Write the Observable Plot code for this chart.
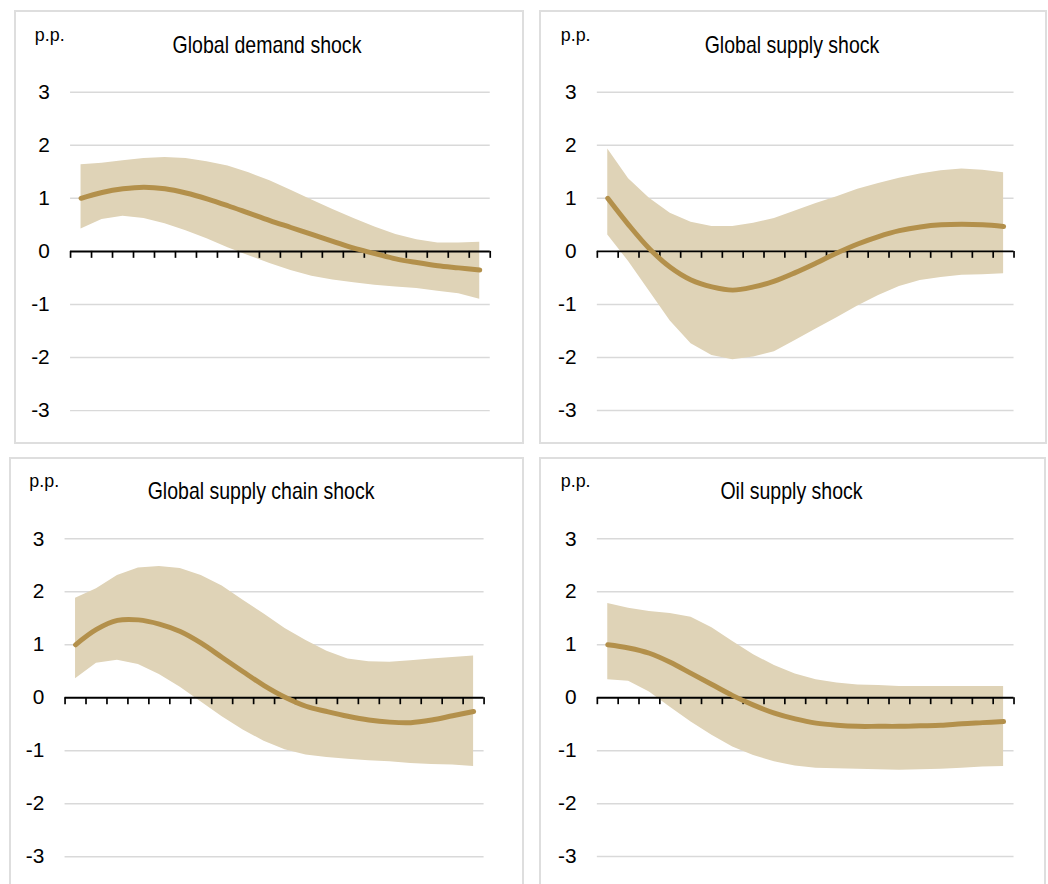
<!DOCTYPE html>
<html><head><meta charset="utf-8">
<script src="https://cdn.jsdelivr.net/npm/d3@7"></script>
<script src="https://cdn.jsdelivr.net/npm/@observablehq/plot@0.6"></script>
<style>
body{margin:0;background:#fff;}
#root{position:relative;width:1048px;height:884px;overflow:hidden;background:#fff;}
.panel{position:absolute;box-sizing:border-box;border:2px solid #dedede;}
.panel svg{position:absolute;left:-2px;top:-2px;overflow:visible;}
</style></head><body><div id="root"></div>
<script>
// ---- data ----
const periods = [1,2,3,4,5,6,7,8,9,10,11,12,13,14,15,16,17,18,19,20];
const titles = ["Global demand shock","Global supply shock","Global supply chain shock","Oil supply shock"];
const unitLabel = "p.p.";
const yTicks = [-3,-2,-1,0,1,2,3];

const demandMean  = [1.00,1.11,1.18,1.21,1.18,1.10,0.99,0.86,0.72,0.58,0.45,0.32,0.19,0.06,-0.04,-0.14,-0.21,-0.27,-0.31,-0.35];
const demandUpper = [1.63,1.66,1.71,1.75,1.77,1.75,1.69,1.61,1.48,1.33,1.15,0.97,0.79,0.62,0.46,0.32,0.22,0.16,0.16,0.17];
const demandLower = [0.42,0.60,0.66,0.62,0.52,0.39,0.24,0.07,-0.08,-0.23,-0.36,-0.47,-0.54,-0.59,-0.64,-0.67,-0.70,-0.75,-0.80,-0.90];

const supplyMean  = [1.00,0.50,0.05,-0.30,-0.54,-0.67,-0.73,-0.67,-0.56,-0.40,-0.22,-0.03,0.14,0.28,0.39,0.46,0.50,0.51,0.50,0.47];
const supplyUpper = [1.93,1.37,1.00,0.72,0.55,0.47,0.47,0.53,0.62,0.76,0.90,1.03,1.17,1.28,1.38,1.46,1.52,1.55,1.53,1.48];
const supplyLower = [0.31,-0.19,-0.75,-1.31,-1.74,-1.96,-2.04,-1.99,-1.89,-1.68,-1.46,-1.25,-1.03,-0.83,-0.66,-0.55,-0.49,-0.45,-0.44,-0.42];

const chainMean  = [1.00,1.29,1.46,1.47,1.39,1.25,1.03,0.76,0.49,0.23,0.01,-0.16,-0.26,-0.35,-0.42,-0.46,-0.47,-0.42,-0.34,-0.26];
const chainUpper = [1.88,2.06,2.31,2.45,2.48,2.44,2.31,2.11,1.84,1.58,1.31,1.08,0.88,0.73,0.68,0.67,0.70,0.73,0.76,0.79];
const chainLower = [0.36,0.65,0.71,0.63,0.44,0.20,-0.08,-0.36,-0.61,-0.82,-0.98,-1.08,-1.13,-1.16,-1.19,-1.21,-1.24,-1.26,-1.27,-1.30];

const oilMean  = [1.00,0.94,0.84,0.67,0.46,0.25,0.04,-0.14,-0.29,-0.40,-0.48,-0.52,-0.54,-0.54,-0.54,-0.53,-0.52,-0.49,-0.47,-0.45];
const oilUpper = [1.78,1.69,1.63,1.59,1.52,1.32,1.06,0.81,0.61,0.45,0.34,0.28,0.24,0.23,0.21,0.21,0.21,0.21,0.21,0.21];
const oilLower = [0.34,0.31,0.11,-0.18,-0.46,-0.71,-0.93,-1.09,-1.21,-1.29,-1.33,-1.34,-1.35,-1.36,-1.37,-1.36,-1.35,-1.33,-1.31,-1.30];

const series = [
  [demandMean, demandLower, demandUpper],
  [supplyMean, supplyLower, supplyUpper],
  [chainMean, chainLower, chainUpper],
  [oilMean, oilLower, oilUpper]
];

// ---- layout (page pixels) ----
const layout = [
  {box:[15,11,523,443],  plot:[70.5,493.5,92.3,413.3],  title:[269,53.5],  unit:[35,41.5]},
  {box:[540,11,1046,443],plot:[597.3,1017.3,92.3,413.3],title:[794,53.5], unit:[561,41.5]},
  {box:[10,458,523,910], plot:[65,487.3,539,859.3],     title:[263,499.5],unit:[29.5,487]},
  {box:[540,458,1045,910],plot:[597.3,1017.3,539,859.3],title:[793.5,499.5],unit:[561,487]}
];

const FONT = '"Liberation Sans",Arial,sans-serif';
const NARROW = 0.82; // emulate a narrow sans face for the titles
const bandColor = "#dfd3b7";
const lineColor = "#b3904b";
const gridColor = "#d9d9d9";
const xBoundaries = d3.range(0.5, periods.length + 1, 1);

const root = document.getElementById("root");

layout.forEach((L, k) => {
  const [bx0, by0, bx1, by1] = L.box;
  const ox = bx0 - 1, oy = by0 - 1;
  const W = bx1 - bx0 + 2, H = by1 - by0 + 2;
  const div = document.createElement("div");
  div.className = "panel";
  div.style.left = ox + "px"; div.style.top = oy + "px";
  div.style.width = W + "px"; div.style.height = H + "px";
  root.appendChild(div);

  const [mean, lower, upper] = series[k];
  const data = periods.map((p, i) => ({p, mean: mean[i], lower: lower[i], upper: upper[i]}));
  const [px0, px1, pyTop, pyBot] = L.plot;

  const svg = Plot.plot({
    width: W, height: H,
    marginLeft: px0 - ox, marginRight: W - (px1 - ox),
    marginTop: pyTop - oy, marginBottom: H - (pyBot - oy),
    style: {fontFamily: FONT, fontSize: "21px", background: "transparent", overflow: "visible"},
    x: {domain: [0.5, periods.length + 0.5], axis: null},
    y: {domain: [-3, 3], axis: null},
    marks: [
      Plot.ruleY(yTicks.filter(d => d !== 0), {stroke: gridColor, strokeWidth: 1.5}),
      Plot.areaY(data, {x: "p", y1: "lower", y2: "upper", fill: bandColor}),
      Plot.ruleY([0], {stroke: "#000", strokeWidth: 2}),
      Plot.ruleX(xBoundaries, {x: d => d, y1: () => 0, y2: () => 0, insetBottom: -7, stroke: "#000", strokeWidth: 1.7}),
      Plot.line(data, {x: "p", y: "mean", stroke: lineColor, strokeWidth: 5, curve: "catmull-rom"}),
      Plot.axisY(yTicks, {tickSize: 0, tickPadding: 21, fontSize: 21, fill: "#000", tickFormat: d => String(d), label: null})
    ]
  });
  div.appendChild(svg);

  const s = d3.select(svg);
  s.append("text")
    .attr("transform", `translate(${L.title[0] - ox},${L.title[1] - oy}) scale(${NARROW},1)`)
    .attr("text-anchor", "middle").attr("font-family", FONT).style("font-size", "24px").attr("fill", "#000")
    .text(titles[k]);
  s.append("text")
    .attr("x", L.unit[0] - ox).attr("y", L.unit[1] - oy)
    .attr("text-anchor", "start").attr("font-family", FONT).style("font-size", "18px").attr("fill", "#000")
    .text(unitLabel);
});
</script></body></html>
